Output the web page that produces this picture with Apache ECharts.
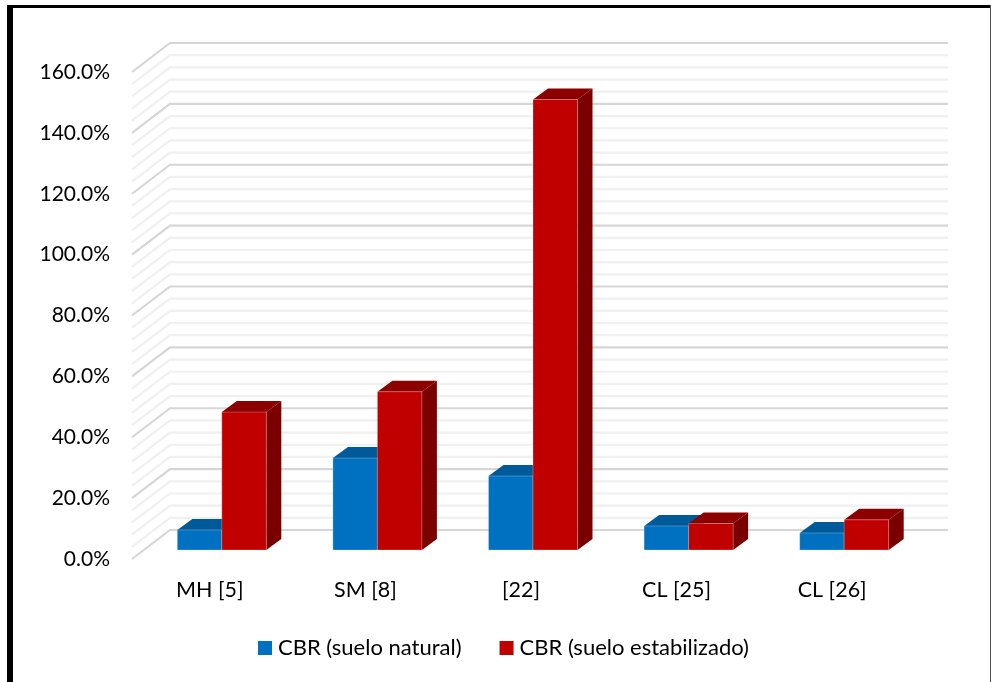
<!DOCTYPE html>
<html><head><meta charset="utf-8">
<style>html,body{margin:0;padding:0;background:#fff}#c{width:991px;height:682px}</style>
<script src="https://cdn.jsdelivr.net/npm/echarts@6/dist/echarts.min.js"></script>
</head><body><div id="c"></div>
<script>
const categories = ['MH [5]', 'SM [8]', '[22]', 'CL [25]', 'CL [26]'];
const natural = [6.6, 30.2, 24.3, 7.9, 5.6];
const estabilizado = [45.3, 52, 148, 8.7, 9.9];
const gridLevels = [];
for (let v = 0; v <= 160; v += 4) gridLevels.push(v);

const DEPTH_X = 38, DEPTH_Y = 29;       // full floor depth
const BAR_SHIFT_X = 12, BAR_SHIFT_Y = 9; // bars sit part way into the floor
const BAR_DX = 15, BAR_DY = 11;         // bar depth
const BAR_W = 44.5;

function wallItem(params, api) {
  const v = api.value(0);
  const cs = params.coordSys;
  const y = api.coord([0, v])[1];
  const major = v % 20 === 0;
  return {
    type: 'polyline', silent: true,
    shape: { points: [[cs.x, y], [cs.x + DEPTH_X, y - DEPTH_Y], [cs.x + cs.width + DEPTH_X, y - DEPTH_Y]] },
    style: { fill: null, stroke: major ? '#d6d6d6' : '#f0f0f0', lineWidth: 2.2 }
  };
}
function barRenderer(side, front, top, dark) {
  return function (params, api) {
    const p = api.coord([api.value(0), api.value(1)]);
    const base = api.coord([api.value(0), 0]);
    const cx = p[0] + BAR_SHIFT_X;
    const x0 = side < 0 ? cx - BAR_W : cx;
    const x1 = x0 + BAR_W;
    const yT = p[1] - BAR_SHIFT_Y, yB = base[1] - BAR_SHIFT_Y;
    const poly = (pts, fill, stroke) => ({ type: 'polygon', shape: { points: pts }, style: { fill, stroke: stroke || null, lineWidth: 1 } });
    return { type: 'group', children: [
      poly([[x1, yT], [x1 + BAR_DX, yT - BAR_DY], [x1 + BAR_DX, yB - BAR_DY], [x1, yB]], dark),
      poly([[x0, yT], [x0 + BAR_DX, yT - BAR_DY], [x1 + BAR_DX, yT - BAR_DY], [x1, yT]], top),
      poly([[x0, yT], [x1, yT], [x1, yB], [x0, yB]], front, 'rgba(255,255,255,0.25)')
    ] };
  };
}
const chart = echarts.init(document.getElementById('c'), null, { renderer: 'canvas' });
const FONT = 'Lato';
chart.setOption({
  animation: false,
  backgroundColor: '#fff',
  grid: { left: 132, top: 72, width: 778, height: 487, containLabel: false },
  xAxis: { type: 'category', data: categories,
    axisLine: { show: false }, axisTick: { show: false }, splitLine: { show: false },
    axisLabel: { color: '#000', fontFamily: FONT, fontSize: 21.5, margin: 20 } },
  yAxis: { type: 'value', min: 0, max: 160, interval: 20,
    axisLine: { show: false }, axisTick: { show: false }, splitLine: { show: false },
    axisLabel: { color: '#000', fontFamily: FONT, fontSize: 21, margin: 22, padding: [4, 0, 0, 0], formatter: v => v.toFixed(1) + '%' } },
  legend: { left: 258, top: 637, padding: 0, icon: 'rect', itemWidth: 14, itemHeight: 14, itemGap: 38,
    textStyle: { color: '#000', fontFamily: FONT, fontSize: 22, padding: [0, 0, 0, 1] },
    data: ['CBR (suelo natural)', 'CBR (suelo estabilizado)'] },
  graphic: [
    { type: 'rect', silent: true, shape: { x: 7, y: 5, width: 6, height: 677 }, style: { fill: '#000' } },
    { type: 'rect', silent: true, shape: { x: 7, y: 5, width: 984, height: 3 }, style: { fill: '#000' } },
    { type: 'rect', silent: true, shape: { x: 990, y: 5, width: 1, height: 677 }, style: { fill: '#555' } }
  ],
  series: [
    { type: 'custom', name: 'walls', renderItem: wallItem, data: gridLevels.map(v => [v]), encode: { y: 0 }, z: 1, silent: true },
    { type: 'custom', name: 'CBR (suelo natural)', itemStyle: { color: '#0070c0' },
      renderItem: barRenderer(-1, '#0070c0', '#005a9a', '#004f86'),
      data: natural.map((v, i) => [i, v]), encode: { x: 0, y: 1 }, z: 2 },
    { type: 'custom', name: 'CBR (suelo estabilizado)', itemStyle: { color: '#c00000' },
      renderItem: barRenderer(1, '#c00000', '#8c0000', '#7a0000'),
      data: estabilizado.map((v, i) => [i, v]), encode: { x: 0, y: 1 }, z: 3 }
  ]
});
</script></body></html>
